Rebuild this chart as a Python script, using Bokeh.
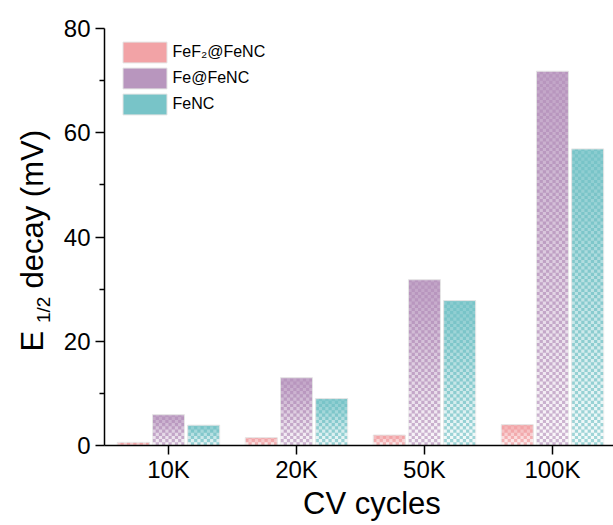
import numpy as np
from bokeh.plotting import figure
from bokeh.layouts import row
from bokeh.models import (ColumnDataSource, Range1d, FixedTicker, Label,
                          Legend, LegendItem)
from bokeh.embed import file_html
from bokeh.resources import INLINE

# ---------------- data ----------------
cycles = ["10K", "20K", "50K", "100K"]
fef2_fenc = [0.6, 1.5, 2.0, 4.0]
fe_fenc = [5.9, 13.0, 31.8, 71.8]
fenc = [3.9, 9.0, 27.8, 56.9]
series_names = ["FeF\u2082@FeNC", "Fe@FeNC", "FeNC"]
y_major_ticks = [0, 20, 40, 60, 80]
y_minor_ticks = [10, 30, 50, 70]
x_title = "CV cycles"
y_title_parts = ["E", "1/2", "decay (mV)"]

# ---------------- styles ----------------
colors = ["#F2A3A6", "#B896BE", "#78C4C8"]
offsets = [-0.275, 0.0, 0.275]
BAR_W = 0.25
FONT = "Liberation Sans"
N_SEG = 24
CELL_PX = 3.2

W, H = 613, 525
SIDE_W = 60
LEFT, TOP, BOTTOM = 100, 28, 80
X0, X1 = 0.5, 4.477
Y0, Y1 = 0, 80
px_x = (W - LEFT) / (X1 - X0)
px_y = (H - TOP - BOTTOM) / (Y1 - Y0)

xpos = np.arange(1, len(cycles) + 1)

p = figure(width=W - SIDE_W, height=H, x_range=Range1d(X0, X1), y_range=Range1d(Y0, Y1),
           output_backend="svg", toolbar_location=None,
           min_border_left=LEFT - SIDE_W, min_border_right=0, min_border_top=TOP,
           min_border_bottom=BOTTOM)
p.background_fill_color = "white"
p.border_fill_color = "white"
p.outline_line_color = None
p.xgrid.visible = False
p.ygrid.visible = False

cw = CELL_PX / px_x
ch = CELL_PX / px_y
ncol = int(round(BAR_W / cw))
cw = BAR_W / ncol

legend_items = []
for vals, name, col, off in zip([fef2_fenc, fe_fenc, fenc], series_names, colors, offsets):
    vals = np.asarray(vals, dtype=float)
    x = xpos + off
    base = p.vbar(x=x, top=vals, bottom=0, width=BAR_W, fill_color=col,
                  line_color="#e4e4e4", line_width=1)
    # white wash, strongest at the bottom of each bar
    xs, bots, tops, fa = [], [], [], []
    for xi, v in zip(x, vals):
        for k in range(N_SEG):
            t = k / (N_SEG - 1)
            xs.append(xi)
            bots.append(v * k / N_SEG)
            tops.append(v * (k + 1) / N_SEG)
            fa.append(0.30 * (1 - t) ** 1.5)
    p.vbar(x="x", top="top", bottom="bottom", width=BAR_W,
           source=ColumnDataSource(dict(x=xs, bottom=bots, top=tops, fa=fa)),
           fill_color="white", fill_alpha="fa", line_color=None)
    # checker cells, fading from strong (bottom) to faint (top)
    cx, cy, cwid, chei, ca = [], [], [], [], []
    for xi, v in zip(x, vals):
        nrow = int(np.ceil(v / ch))
        left = xi - BAR_W / 2
        for r in range(nrow):
            y_lo = r * ch
            y_hi = min((r + 1) * ch, v)
            if y_hi <= y_lo:
                continue
            t = ((y_lo + y_hi) / 2) / v
            a = 0.14 + 0.76 * (1 - t) ** 1.2
            for c in range(ncol):
                if (r + c) % 2 == 0:
                    cx.append(left + (c + 0.5) * cw)
                    cy.append((y_lo + y_hi) / 2)
                    cwid.append(cw)
                    chei.append(y_hi - y_lo)
                    ca.append(a)
    p.rect(x="x", y="y", width="w", height="h",
           source=ColumnDataSource(dict(x=cx, y=cy, w=cwid, h=chei, a=ca)),
           fill_color="white", fill_alpha="a", line_color=None)
    legend_items.append(LegendItem(label=name, renderers=[base]))

legend = Legend(items=legend_items, location=(12.5, 327.6), glyph_width=55,
                glyph_height=26, label_height=26, spacing=0, padding=0, margin=0,
                label_standoff=1, label_text_font=FONT, label_text_font_size="16px",
                label_text_color="black", border_line_color=None,
                background_fill_alpha=0)
p.add_layout(legend)

p.xaxis.ticker = FixedTicker(ticks=[int(v) for v in xpos])
p.xaxis.major_label_overrides = {int(v): c for v, c in zip(xpos, cycles)}
p.yaxis.ticker = FixedTicker(ticks=y_major_ticks, minor_ticks=y_minor_ticks)
for ax in [p.xaxis[0], p.yaxis[0]]:
    ax.axis_line_color = "black"
    ax.axis_line_width = 1.5
    ax.major_tick_line_color = "black"
    ax.major_tick_line_width = 1.5
    ax.major_tick_out = 9
    ax.major_tick_in = 0
    ax.major_label_text_font = FONT
    ax.major_label_text_font_size = "24px"
    ax.major_label_text_color = "black"
p.xaxis.minor_tick_line_color = None
p.xaxis.major_label_standoff = 1
# leading no-break spaces shift the centred title right, as in the reference
p.xaxis.axis_label = "\u00a0\u00a0\u00a0" + x_title
p.xaxis.axis_label_text_font = FONT
p.xaxis.axis_label_text_font_size = "31px"
p.xaxis.axis_label_text_font_style = "normal"
p.xaxis.axis_label_text_color = "black"
p.xaxis.axis_label_standoff = 0
p.yaxis.minor_tick_line_color = "black"
p.yaxis.minor_tick_line_width = 1.5
p.yaxis.minor_tick_out = 5
p.yaxis.minor_tick_in = 0
p.yaxis.major_label_standoff = 5

# y-axis title (with subscript) in a narrow side figure whose frame aligns
# with the main frame: map its y data 1:1 to canvas pixels
side = figure(width=SIDE_W, height=H, x_range=Range1d(0, SIDE_W),
              y_range=Range1d(BOTTOM, H - TOP),
              output_backend="svg", toolbar_location=None, min_border=0)
side.axis.visible = False
side.grid.visible = False
side.outline_line_color = None
side.background_fill_color = "white"
side.border_fill_color = "white"

TITLE_PX = 31
SUB_PX = 19
anchors = [(y_title_parts[0], 31.5, 351, TITLE_PX),
           (y_title_parts[1], 42.5, 322.5, SUB_PX),
           (y_title_parts[2], 31.5, 288, TITLE_PX)]
for txt, cx_px, sy_px, size in anchors:
    side.add_layout(Label(x=cx_px, y=H - sy_px, text=txt, text_font=FONT,
                          text_font_size=f"{size}px", angle=np.pi / 2,
                          text_align="left", text_baseline="middle",
                          text_color="black"))

layout = row(side, p, spacing=0)
open("out.html", "w").write(file_html(layout, INLINE))
